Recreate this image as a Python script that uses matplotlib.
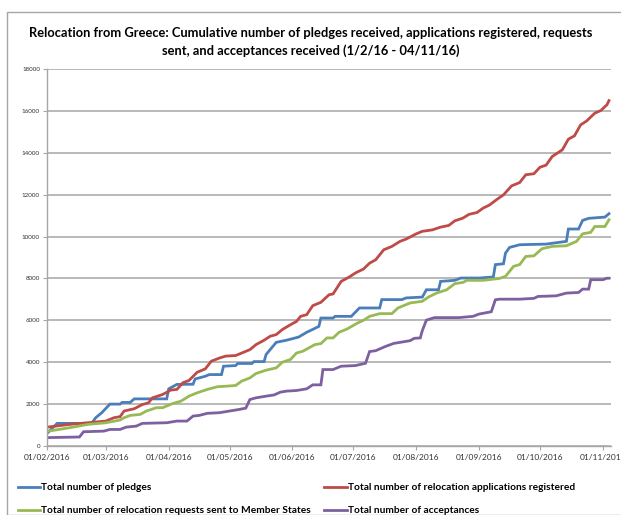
import numpy as np
import pandas as pd
import matplotlib
matplotlib.use("Agg")
import matplotlib.pyplot as plt
import matplotlib.dates as mdates
from matplotlib.patches import Rectangle

# days counted from 01/02/2016
pledge_days = [0, 5, 22, 24, 27, 31, 36, 37, 41, 43, 59, 60, 64, 72, 73, 78, 80, 86, 87,
               93, 94, 101, 102, 107, 108, 113, 118, 124, 128, 130, 134, 135, 141, 142,
               150, 154, 164, 165, 175, 177, 185, 187, 193, 194, 201, 204, 213, 220, 221,
               225, 226, 228, 233, 246, 256, 257, 262, 264, 267, 275, 277]
pledge_vals = [600, 1080, 1080, 1350, 1590, 2000, 2000, 2080, 2080, 2250, 2250, 2730, 2940,
               2950, 3200, 3330, 3410, 3410, 3810, 3840, 3940, 3940, 4030, 4030, 4370, 4950,
               5050, 5200, 5430, 5520, 5710, 6110, 6110, 6190, 6190, 6590, 6590, 6990, 6990,
               7070, 7110, 7460, 7460, 7860, 7910, 8020, 8020, 8070, 8660, 8700, 9210, 9480,
               9610, 9640, 9770, 10360, 10360, 10770, 10870, 10930, 11090]

appl_days = [0, 11, 20, 29, 33, 36, 38, 43, 47, 50, 52, 57, 61, 64, 67, 70, 74, 78, 81, 85,
             88, 93, 96, 100, 103, 107, 110, 113, 116, 120, 123, 125, 128, 131, 135, 139,
             141, 145, 149, 152, 156, 159, 162, 166, 170, 174, 177, 182, 185, 190, 194, 198,
             201, 205, 208, 212, 215, 218, 222, 225, 229, 233, 236, 240, 243, 246, 249, 254,
             257, 260, 263, 266, 270, 273, 276, 277]
appl_vals = [900, 1030, 1110, 1190, 1350, 1400, 1670, 1780, 1980, 2060, 2300, 2460, 2670,
             2700, 3020, 3130, 3520, 3680, 4050, 4200, 4290, 4320, 4440, 4600, 4840, 5050,
             5240, 5320, 5560, 5790, 5950, 6190, 6270, 6700, 6860, 7220, 7260, 7860, 8070,
             8260, 8450, 8730, 8890, 9370, 9530, 9770, 9880, 10130, 10250, 10320, 10450,
             10530, 10750, 10880, 11060, 11150, 11360, 11500, 11790, 11990, 12420, 12580,
             12950, 13000, 13310, 13410, 13820, 14140, 14650, 14810, 15330, 15520, 15890,
             16020, 16290, 16490]

req_days = [0, 11, 20, 29, 36, 38, 41, 46, 49, 54, 57, 62, 66, 70, 74, 79, 84, 89, 93, 96,
            100, 103, 108, 113, 116, 120, 123, 126, 132, 135, 138, 141, 144, 148, 153, 156,
            159, 164, 170, 173, 179, 185, 188, 192, 197, 201, 205, 207, 215, 223, 226, 230,
            233, 236, 240, 244, 249, 256, 261, 264, 268, 270, 275, 277]
req_vals = [700, 870, 1030, 1110, 1240, 1350, 1460, 1510, 1670, 1830, 1830, 2030, 2140,
            2380, 2540, 2700, 2830, 2860, 2890, 3100, 3250, 3460, 3620, 3730, 4000, 4130,
            4440, 4520, 4840, 4890, 5160, 5160, 5430, 5590, 5870, 6000, 6190, 6320, 6320,
            6590, 6830, 6910, 7110, 7300, 7460, 7750, 7810, 7910, 7910, 8000, 8100, 8580,
            8660, 9050, 9080, 9420, 9530, 9560, 9770, 10130, 10200, 10480, 10480, 10800]

acc_days = [0, 16, 18, 28, 31, 36, 39, 44, 47, 59, 64, 69, 72, 75, 79, 85, 90, 95, 98, 100,
            103, 108, 112, 115, 118, 123, 128, 131, 135, 136, 141, 145, 152, 157, 159, 162,
            167, 171, 176, 179, 181, 184, 185, 187, 191, 203, 210, 213, 219, 221, 223, 233,
            240, 242, 251, 256, 262, 264, 267, 268, 274, 276, 277]
acc_vals = [400, 430, 680, 710, 790, 790, 900, 950, 1080, 1110, 1190, 1190, 1430, 1460,
            1560, 1590, 1670, 1750, 1810, 2220, 2300, 2380, 2440, 2570, 2620, 2650, 2730,
            2920, 2920, 3650, 3650, 3810, 3840, 3950, 4510, 4550, 4760, 4900, 4980, 5030,
            5140, 5160, 5510, 6010, 6130, 6130, 6190, 6300, 6410, 6980, 7010, 7010, 7050,
            7140, 7170, 7300, 7330, 7490, 7490, 7940, 7940, 8010, 8010]

labels = ["Total number of pledges",
          "Total number of relocation applications registered",
          "Total number of relocation requests sent to Member States",
          "Total number of acceptances"]
colors = ["#4a7ebb", "#be4b48", "#98b954", "#7d60a0"]

start = pd.Timestamp("2016-02-01")


def to_dates(days):
    return start + pd.to_timedelta(days, unit="D")


plt.rcParams["font.family"] = ["Lato", "DejaVu Sans"]

fig = plt.figure(figsize=(6.21, 5.15), dpi=100)
fig.patches.append(Rectangle((7 / 621, 0), 1, 1 - 12 / 515, transform=fig.transFigure,
                             fill=False, edgecolor="#a6a6a6", linewidth=1.0))
ax = fig.add_axes([47 / 621, 1 - 446 / 515, (611 - 47) / 621, (446 - 69) / 515])

series = [(pledge_days, pledge_vals), (appl_days, appl_vals),
          (req_days, req_vals), (acc_days, acc_vals)]
handles = []
for (d, v), lab, c in zip(series, labels, colors):
    h, = ax.plot(to_dates(d), v, color=c, linewidth=2.0, label=lab, solid_joinstyle="miter")
    handles.append(h)

ax.set_ylim(0, 18000)
ax.set_yticks(np.arange(0, 18001, 2000))
ax.set_xlim(start, start + pd.Timedelta(days=278))
month_ticks = pd.date_range("2016-02-01", "2016-11-01", freq="MS")
ax.set_xticks(month_ticks)
ax.xaxis.set_major_formatter(mdates.DateFormatter("%d/%m/%Y"))

ax.grid(axis="y", color="#b3b3b3", linewidth=1.3)
ax.set_axisbelow(True)
for s in ["top", "right"]:
    ax.spines[s].set_visible(False)
for s in ["left", "bottom"]:
    ax.spines[s].set_color("#a6a6a6")
    ax.spines[s].set_linewidth(1.0)
ax.tick_params(axis="y", labelsize=4.5, length=3, color="#a6a6a6", pad=2, labelcolor="#333333")
ax.tick_params(axis="x", labelsize=6.0, length=3, color="#a6a6a6", pad=3, labelcolor="#333333")

fig.text(0.5, 1 - 33 / 515, "Relocation from Greece: Cumulative number of pledges received, "
         "applications registered, requests", ha="center", va="center",
         fontsize=9.3, fontweight="bold")
fig.text(0.5, 1 - 51 / 515, "sent, and acceptances received (1/2/16 - 04/11/16)",
         ha="center", va="center", fontsize=9.3, fontweight="bold")

# legend fills column by column, so order the entries to read row by row
order = [0, 2, 1, 3]
fig.legend(handles=[handles[i] for i in order], labels=[labels[i] for i in order],
           ncol=2, loc="upper left", bbox_to_anchor=(18 / 621, 1 - 483 / 515),
           frameon=False, prop={"size": 7.3, "weight": "bold"}, handlelength=2.2,
           handletextpad=0.1, columnspacing=1.3, labelspacing=1.4, borderpad=0,
           borderaxespad=0)

fig.savefig("out.png", dpi=100)
